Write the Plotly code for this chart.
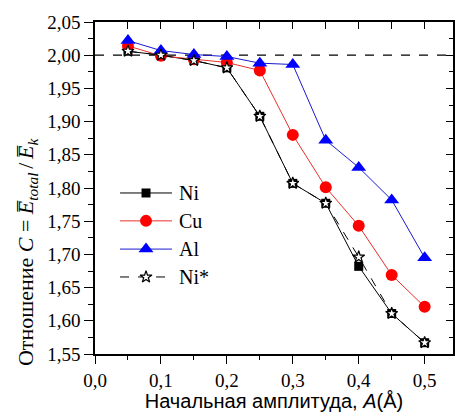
import plotly.graph_objects as go

# Initial amplitude A (Å)
amplitude = [0.05, 0.10, 0.15, 0.20, 0.25, 0.30, 0.35, 0.40, 0.45, 0.50]

# Ratio C = E_total / E_k for each metal
ratio_ni = [2.006, 2.000, 1.992, 1.981, 1.908, 1.807, 1.777, 1.682, 1.611, 1.567]
ratio_cu = [2.014, 1.999, 1.994, 1.989, 1.977, 1.880, 1.801, 1.743, 1.669, 1.621]
ratio_al = [2.022, 2.007, 2.001, 1.998, 1.988, 1.986, 1.872, 1.831, 1.782, 1.695]
ratio_ni_star = [2.006, 2.000, 1.992, 1.981, 1.908, 1.807, 1.777, 1.696, 1.611, 1.567]

series_names = ["Ni", "Cu", "Al", "Ni*"]
x_ticks = [0.0, 0.1, 0.2, 0.3, 0.4, 0.5]
reference_level = 2.00

X_RANGE = [0, 0.543]
Y_RANGE = [1.55, 2.05]
SERIF = "Times New Roman, Liberation Serif, serif"
SANS = "Arial, Liberation Sans, sans-serif"

styles = {
    "Ni": dict(line=dict(color="black", width=1),
               marker=dict(symbol="square", size=9, color="black")),
    "Cu": dict(line=dict(color="#e8302a", width=1),
               marker=dict(symbol="circle", size=12, color="#ff0000")),
    "Al": dict(line=dict(color="#1a1ad0", width=1),
               marker=dict(symbol="triangle-up", size=13, color="#0000ff")),
    "Ni*": dict(line=dict(color="black", width=1, dash="dash"),
                marker=dict(symbol="star", size=9, color="white",
                            line=dict(color="black", width=1.2))),
}
values = {"Ni": ratio_ni, "Cu": ratio_cu, "Al": ratio_al, "Ni*": ratio_ni_star}

fig = go.Figure()

for name in series_names:
    fig.add_trace(go.Scatter(x=amplitude, y=values[name], name=name,
                             mode="lines+markers", showlegend=False,
                             **styles[name]))

# Horizontal dashed reference line at C = 2
fig.add_shape(type="line", xref="paper", x0=0, x1=1, yref="y",
              y0=reference_level, y1=reference_level,
              line=dict(color="black", width=1.2, dash="dash"), layer="below")

# Key drawn on a unit overlay axis (0..1 over the plotting area)
key_x0, key_x1, key_text_x = 0.070, 0.215, 0.228
key_rows = [0.485, 0.401, 0.316, 0.232]
for name, ky in zip(series_names, key_rows):
    st = styles[name]
    fig.add_trace(go.Scatter(x=[key_x0, key_x1], y=[ky, ky], mode="lines",
                             line=st["line"], xaxis="x3", yaxis="y3",
                             showlegend=False, hoverinfo="skip"))
    fig.add_trace(go.Scatter(x=[(key_x0 + key_x1) / 2], y=[ky], mode="markers",
                             marker=st["marker"], xaxis="x3", yaxis="y3",
                             showlegend=False, hoverinfo="skip"))
    fig.add_annotation(xref="x3", yref="y3", x=key_text_x, y=ky, text=name,
                       showarrow=False, xanchor="left", yanchor="middle",
                       font=dict(family=SERIF, size=20, color="black"))

axis_common = dict(showline=True, linecolor="black", linewidth=1.5,
                   showgrid=False, zeroline=False, tickcolor="black",
                   tickwidth=1.2)

fig.update_layout(
    width=456, height=412,
    margin=dict(l=95, r=3, t=22, b=58),
    paper_bgcolor="white", plot_bgcolor="white",
    separators=",.",
    showlegend=False,
    font=dict(family=SERIF, color="black"),
    xaxis=dict(range=X_RANGE, tickvals=x_ticks, tickformat=".1f",
               ticks="outside", ticklen=8,
               minor=dict(dtick=0.05, ticks="outside", ticklen=4,
                          tickcolor="black", tickwidth=1.2),
               tickfont=dict(family=SERIF, size=19, color="black"),
               title=dict(text="Начальная амплитуда, <i>A</i>(Å)",
                          font=dict(family=SANS, size=20, color="black"),
                          standoff=4),
               **axis_common),
    yaxis=dict(range=Y_RANGE, dtick=0.05, tick0=1.55, tickformat=".2f",
               ticks="outside", ticklen=9,
               minor=dict(dtick=0.025, ticks="outside", ticklen=5,
                          tickcolor="black", tickwidth=1.2),
               tickfont=dict(family=SERIF, size=19, color="black"),
               **axis_common),
    xaxis2=dict(range=X_RANGE, overlaying="x", side="top", anchor="y",
                dtick=0.05, tick0=0, ticks="inside", ticklen=7,
                showticklabels=False, **axis_common),
    yaxis2=dict(range=Y_RANGE, overlaying="y", side="right", anchor="x",
                dtick=0.05, tick0=1.55, ticks="inside", ticklen=7,
                minor=dict(dtick=0.025, ticks="inside", ticklen=4,
                           tickcolor="black", tickwidth=1.2),
                showticklabels=False, **axis_common),
    xaxis3=dict(range=[0, 1], overlaying="x", visible=False, fixedrange=True),
    yaxis3=dict(range=[0, 1], overlaying="y", visible=False, fixedrange=True),
)

# Invisible trace so the mirrored top/right axes are rendered
fig.add_trace(go.Scatter(x=[None], y=[None], xaxis="x2", yaxis="y2",
                         showlegend=False, hoverinfo="skip"))

# Rotated y-axis title with overlined energies
fig.add_annotation(
    xref="paper", yref="paper", x=-0.19, y=0.31,
    text="Отношение <i>C</i> = <i>E\u0305</i><sub><i>total</i></sub>&#8202;&#8202;/&#8202;&#8202;<i>E\u0305</i><sub><i>k</i></sub>",
    textangle=-90, showarrow=False, xanchor="center", yanchor="middle",
    font=dict(family=SERIF, size=22, color="black"),
)

fig.write_html("out.html")
